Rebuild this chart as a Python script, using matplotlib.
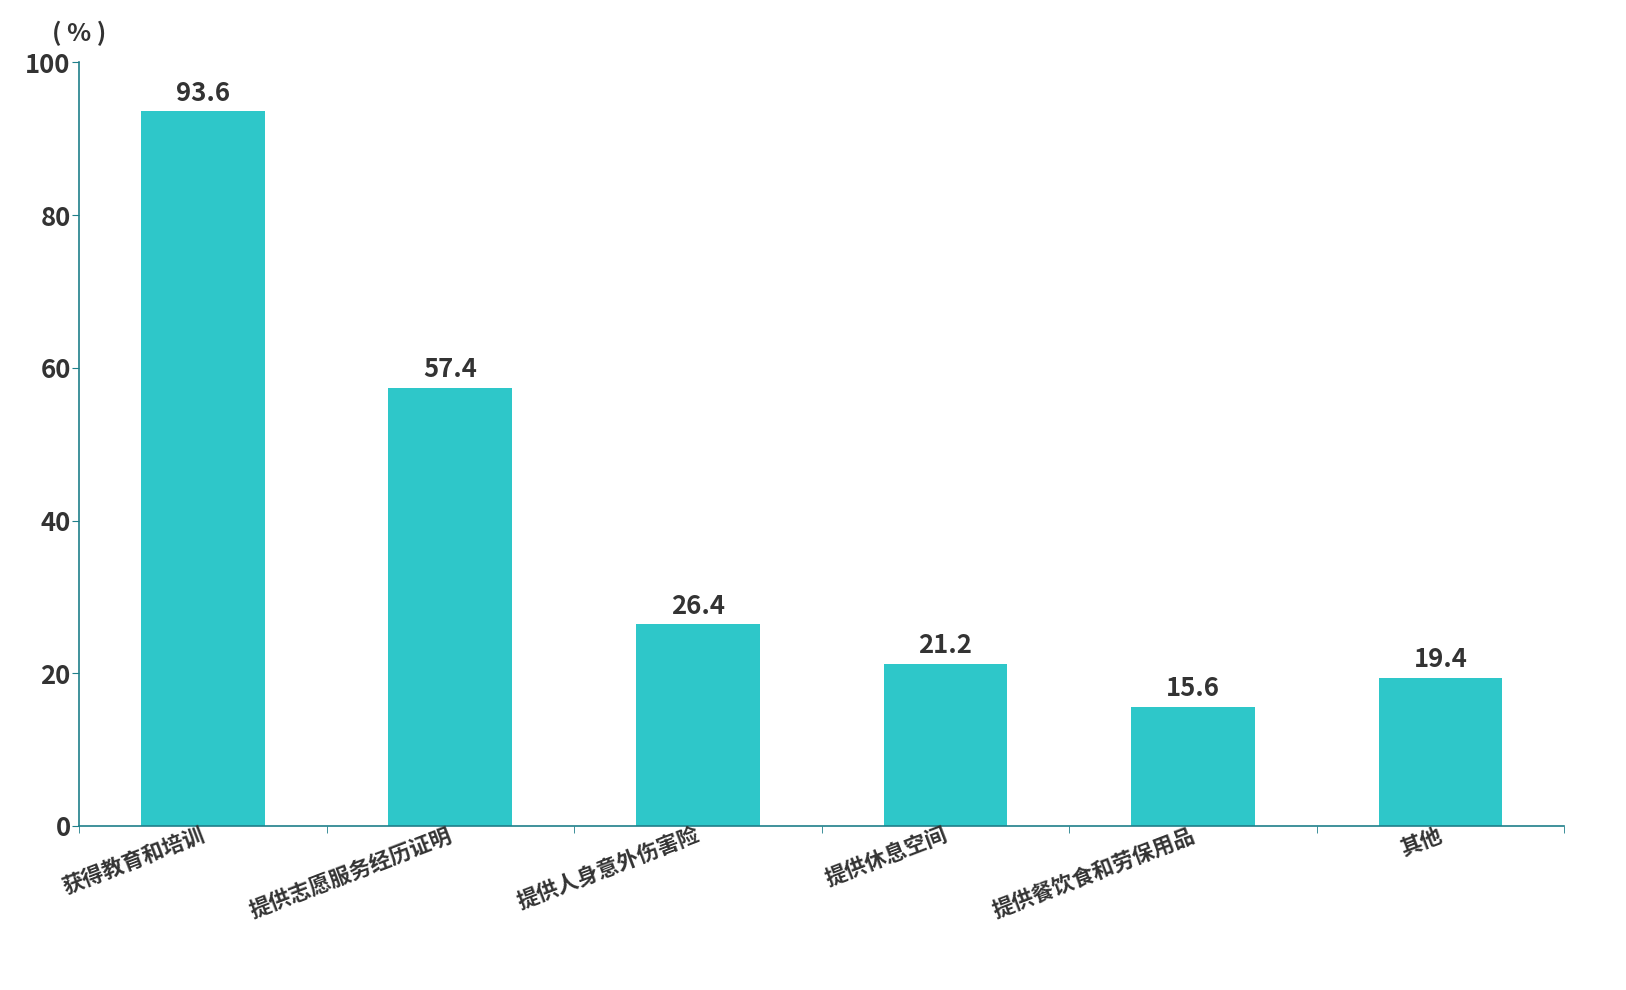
import matplotlib
matplotlib.use("Agg")
import matplotlib.pyplot as plt
import numpy as np

plt.rcParams['font.family'] = ['Noto Sans CJK SC', 'DejaVu Sans']

# data
categories = ["获得教育和培训", "提供志愿服务经历证明", "提供人身意外伤害险",
              "提供休息空间", "提供餐饮食和劳保用品", "其他"]
values = [93.6, 57.4, 26.4, 21.2, 15.6, 19.4]
yticks = [0, 20, 40, 60, 80, 100]

bar_color = '#2ec7c9'
axis_color = '#1f7f8a'
text_color = '#333333'

fig = plt.figure(figsize=(16.26, 9.9), dpi=100)
ax = fig.add_axes([0.0486, 0.1657, 0.9134, 0.7713])

x = np.arange(len(categories))
ax.bar(x, values, width=0.5, color=bar_color, zorder=2)

for xi, v in zip(x, values):
    ax.text(xi, v + 0.6, f"{v:.1f}", ha='center', va='bottom',
            fontsize=18.5, fontweight='bold', color=text_color)

ax.set_xlim(-0.5, len(categories) - 0.5)
ax.set_ylim(0, 100)

ax.set_yticks(yticks)
ax.set_yticklabels([str(t) for t in yticks], fontsize=18.5, fontweight='bold', color=text_color)
ax.tick_params(axis='y', length=5, color=axis_color, pad=1)

# category boundary ticks
ax.set_xticks(np.arange(-0.5, len(categories)), minor=True)
ax.tick_params(axis='x', which='minor', length=5, color=axis_color, direction='out')
ax.set_xticks(x)
ax.set_xticklabels([])
ax.tick_params(axis='x', which='major', length=0)

for xi, lab in zip(x, categories):
    ax.annotate(lab, xy=(xi, 0), xycoords=('data', 'axes fraction'),
                xytext=(-2, 1), textcoords='offset points',
                ha='right', va='top', rotation=21, rotation_mode='anchor',
                fontsize=15.5, fontweight='bold', color=text_color)

for side in ['top', 'right']:
    ax.spines[side].set_visible(False)
for side in ['left', 'bottom']:
    ax.spines[side].set_color(axis_color)
    ax.spines[side].set_linewidth(1.2)

fig.text(0.0485, 0.966, "( % )", ha='center', va='center', fontsize=18,
         fontweight='bold', color=text_color)

fig.savefig("out.png", dpi=100)
